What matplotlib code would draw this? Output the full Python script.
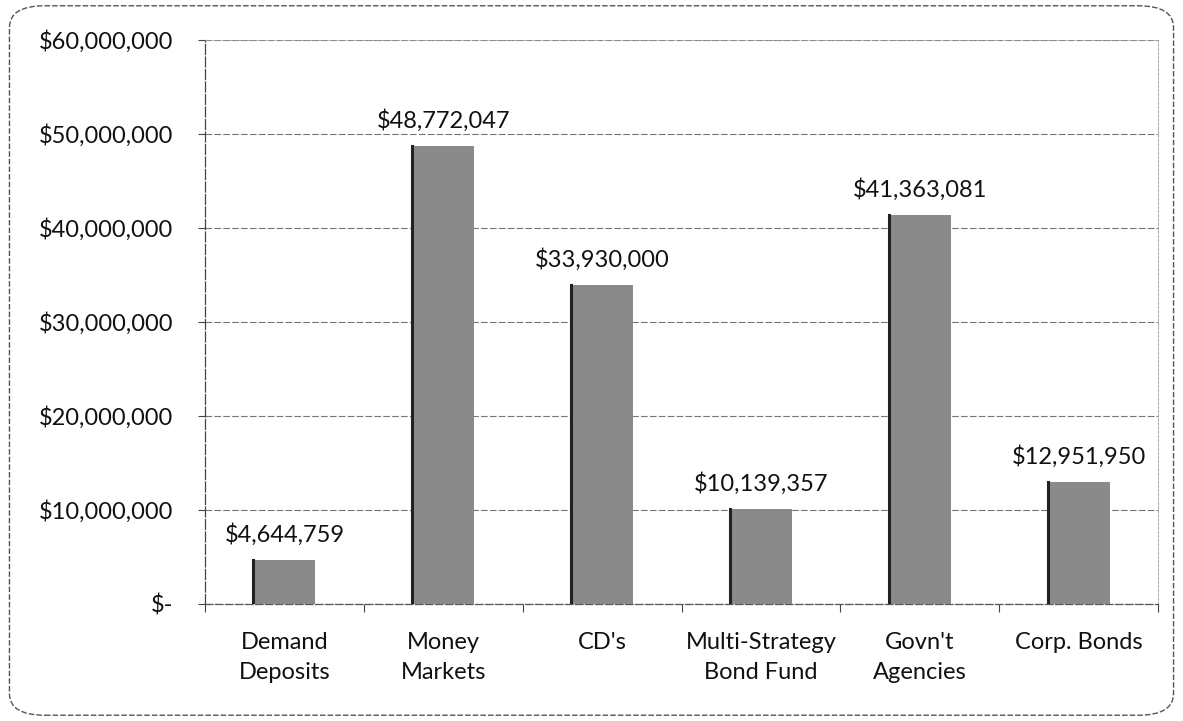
import matplotlib
matplotlib.use("Agg")
import matplotlib.pyplot as plt
from matplotlib.patches import FancyBboxPatch
from matplotlib.ticker import FuncFormatter, FixedLocator

categories = ["Demand\nDeposits", "Money\nMarkets", "CD's", "Multi-Strategy\nBond Fund",
              "Govn't\nAgencies", "Corp. Bonds"]
values = [4644759, 48772047, 33930000, 10139357, 41363081, 12951950]
yticks = [0, 10000000, 20000000, 30000000, 40000000, 50000000, 60000000]

plt.rcParams['font.family'] = ['Lato', 'DejaVu Sans']
FS = 17

fig = plt.figure(figsize=(11.83, 7.21), dpi=100)
border = FancyBboxPatch((0.008, 0.008), 0.984, 0.984, boxstyle="round,pad=0,rounding_size=0.03",
                        transform=fig.transFigure, facecolor='none', edgecolor='#555555',
                        linewidth=1.0, linestyle=(0, (4, 1.5)), zorder=-1)
fig.patches.append(border)

ax = fig.add_axes([0.1733, 0.1623, 0.8056, 0.7822])
ax.set_facecolor('none')
x = list(range(len(categories)))
bars = ax.bar(x, values, width=0.39, color='#8a8a8a', edgecolor='none', zorder=3)
for b in bars:
    ax.plot([b.get_x(), b.get_x()], [0, b.get_height()], color='#222222', lw=2.2, zorder=4)

for xi, v in zip(x, values):
    ax.text(xi, v + 1500000, "${:,.0f}".format(v), ha='center', va='bottom', fontsize=FS, color='#111111')

ax.set_xlim(-0.5, len(categories) - 0.5)
ax.set_ylim(0, 60000000)
ax.yaxis.set_major_locator(FixedLocator(yticks))
ax.yaxis.set_major_formatter(FuncFormatter(lambda v, p: "$-" if v == 0 else "${:,.0f}".format(v)))
ax.tick_params(axis='y', labelsize=FS, length=5, width=0.8, color='#444444', pad=18, labelcolor='#111111')
ax.set_xticks(x)
ax.set_xticklabels(categories, fontsize=FS, color='#111111', va='top', linespacing=1.55)
ax.tick_params(axis='x', length=0, pad=20)
ax.set_xticks([i + 0.5 for i in range(-1, len(categories))], minor=True)
ax.tick_params(axis='x', which='minor', length=6, width=0.8, color='#444444')

ax.grid(axis='y', color='#777777', linestyle=(0, (6, 2)), linewidth=0.8, zorder=0)
for s in ['top', 'right']:
    ax.spines[s].set_color('#999999')
    ax.spines[s].set_linestyle((0, (3, 2)))
    ax.spines[s].set_linewidth(0.6)
ax.spines['left'].set_color('#444444')
ax.spines['left'].set_linestyle((0, (8, 2)))
ax.spines['left'].set_linewidth(0.9)
ax.spines['bottom'].set_color('#555555')
ax.spines['bottom'].set_linestyle((0, (6, 2)))
ax.spines['bottom'].set_linewidth(0.9)

fig.savefig("out.png", dpi=100)
